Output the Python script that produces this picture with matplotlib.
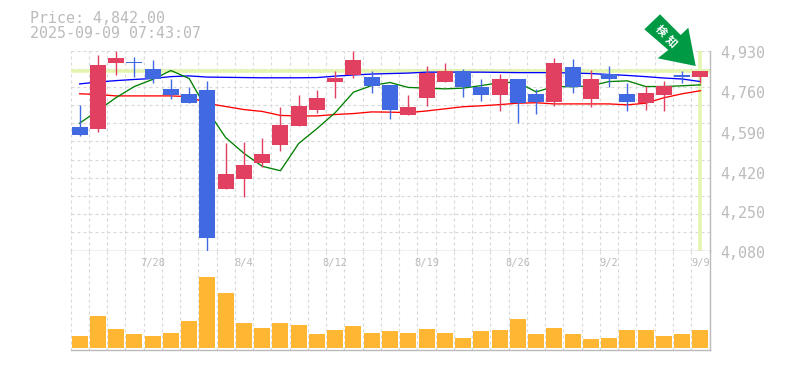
import matplotlib
matplotlib.use("Agg")
import matplotlib.pyplot as plt
from matplotlib.patches import Polygon

W, H = 785, 370

current_price = 4842
price_text = "Price: 4,842.00"
time_text = "2025-09-09 07:43:07"

y_ticks = [4930, 4760, 4590, 4420, 4250, 4080]
date_pos = [4, 9, 14, 19, 24, 29, 34]
date_labels = ["7/28", "8/4", "8/12", "8/19", "8/26", "9/2", "9/9"]

# candles
opens = [4607, 4595, 4875, 4883, 4853, 4768, 4747, 4764, 4343, 4382, 4450, 4530,
         4611, 4679, 4798, 4824, 4819, 4785, 4654, 4730, 4798, 4845, 4777, 4743,
         4807, 4747, 4713, 4858, 4722, 4832, 4747, 4705, 4739, 4828, 4819]
closes = [4573, 4870, 4900, 4879, 4807, 4743, 4705, 4135, 4407, 4445, 4492, 4615,
          4696, 4730, 4815, 4888, 4781, 4679, 4692, 4836, 4845, 4773, 4739, 4807,
          4709, 4713, 4879, 4773, 4811, 4811, 4713, 4751, 4781, 4819, 4845]
highs = [4700, 4913, 4930, 4904, 4888, 4811, 4777, 4802, 4539, 4543, 4560, 4692,
         4739, 4764, 4841, 4930, 4841, 4785, 4743, 4866, 4879, 4853, 4807, 4832,
         4807, 4768, 4900, 4892, 4849, 4866, 4790, 4781, 4802, 4845, 4845]
lows = [4566, 4583, 4824, 4819, 4791, 4722, 4705, 4077, 4343, 4309, 4437, 4501,
        4611, 4666, 4730, 4815, 4751, 4637, 4654, 4696, 4798, 4734, 4717, 4671,
        4624, 4662, 4696, 4751, 4688, 4773, 4671, 4679, 4675, 4790, 4790]

ma_blue = [4788, 4796, 4802, 4807, 4811, 4819, 4822, 4817, 4816, 4815, 4814, 4814,
           4814, 4815, 4821, 4826, 4830, 4832, 4834, 4838, 4838, 4838, 4838, 4837,
           4836, 4836, 4836, 4834, 4832, 4828, 4824, 4819, 4813, 4809, 4798]
ma_green = [4621, 4675, 4730, 4777, 4807, 4845, 4811, 4675, 4560, 4493, 4438, 4419,
            4535, 4598, 4666, 4753, 4781, 4794, 4773, 4770, 4767, 4770, 4781, 4793,
            4795, 4754, 4777, 4776, 4780, 4798, 4801, 4777, 4777, 4780, 4784]
ma_red = [4746, 4743, 4737, 4737, 4737, 4737, 4734, 4705, 4692, 4679, 4671, 4654,
          4652, 4652, 4658, 4662, 4669, 4668, 4666, 4673, 4682, 4691, 4695, 4700,
          4706, 4708, 4703, 4703, 4703, 4703, 4699, 4706, 4729, 4746, 4759]

volume = [12, 32, 19, 14, 12, 15, 27, 71, 55, 25, 20, 25, 23, 14, 18, 22, 15, 17,
          15, 19, 15, 10, 17, 18, 29, 14, 20, 14, 9, 10, 18, 18, 12, 14, 18]

GRAY = "#bbbbbb"
GRID = "#d8d8d8"
UP = "#e24060"
DOWN = "#4169e1"
BAND = "#e4f5b0"
DASH = (0, (2.7, 2.7))

fig = plt.figure(figsize=(W / 100, H / 100), dpi=100, facecolor="white")


def px_axes(x0, y0, x1, y1):
    return fig.add_axes([x0 / W, 1 - y1 / H, (x1 - x0) / W, (y1 - y0) / H])


ax = px_axes(70.5, 50.5, 709.5, 250.5)
vol = px_axes(70.5, 250.5, 709.5, 349.5)

n = len(opens)
xs = list(range(n))

for a in (ax, vol):
    a.set_xlim(-0.5, n - 0.5)
    a.set_xticks([i - 0.5 for i in range(n + 1)])
    a.tick_params(length=0, labelbottom=False, labelleft=False)
    a.grid(True, axis="x", color=GRID, linestyle=DASH, linewidth=0.8)
    a.set_axisbelow(True)
    for s in a.spines.values():
        s.set_visible(False)
    for side in ("right", "bottom"):
        a.spines[side].set_visible(True)
        a.spines[side].set_color(GRAY)
        a.spines[side].set_linewidth(1.0)

# price panel
ax.set_ylim(4080, 4930)
step = (4930 - 4080) / 11
ax.set_yticks([4080 + i * step for i in range(12)])
ax.grid(True, axis="y", color=GRID, linestyle=DASH, linewidth=0.8)

ax.axhline(current_price, color=BAND, linewidth=2.6, zorder=1.5)
ax.axvline(n - 1, color=BAND, linewidth=2.6, zorder=1.5)

ax.plot(xs, ma_blue, color="#0000ff", linewidth=0.95, zorder=2)
ax.plot(xs, ma_red, color="#ff0000", linewidth=0.95, zorder=2)
ax.plot(xs, ma_green, color="#008000", linewidth=0.95, zorder=2)

for i in xs:
    c = UP if closes[i] >= opens[i] else DOWN
    ax.vlines(i, lows[i], highs[i], color=c, linewidth=1.0, zorder=3, clip_on=False)
    ax.bar(i, abs(closes[i] - opens[i]), bottom=min(opens[i], closes[i]),
           width=0.875, color=c, linewidth=0, zorder=4)

# volume panel
vol.set_ylim(-2, 97)
vol.set_yticks([])
vol.bar(xs, volume, width=0.875, color="#ffb733", linewidth=0, zorder=3)
for p, t in zip(date_pos, date_labels):
    vol.text(p, 1 - 12.5 / 99, t, transform=vol.get_xaxis_transform(), ha="center", va="center",
             family="DejaVu Sans Mono", fontsize=7.5, color=GRAY, zorder=5)

# right hand price labels
for v in y_ticks:
    fig.text(720 / W, 1 - (50.5 + (4930 - v) * 200 / 850 + 3.5) / H, f"{v:,}", ha="left", va="center",
             family="DejaVu Sans Mono", fontsize=10.8, color=GRAY)

fig.text(30 / W, 1 - 18.5 / H, price_text, ha="left", va="center",
         family="DejaVu Sans Mono", fontsize=10.8, color=GRAY)
fig.text(30 / W, 1 - 33 / H, time_text, ha="left", va="center",
         family="DejaVu Sans Mono", fontsize=10.8, color=GRAY)

# green arrow badge
arrow_px = [(660, 14.3), (680.7, 35), (688.3, 27.7), (695.7, 66), (657.7, 58.3), (668.3, 50), (644.3, 29.3)]
fig.add_artist(Polygon([(x / W, 1 - y / H) for x, y in arrow_px], closed=True,
                       transform=fig.transFigure, facecolor="#009944", edgecolor="none", zorder=10))
for ch, (cx, cy) in zip("検知", [(661, 31), (671.5, 41.5)]):
    fig.text(cx / W, 1 - cy / H, ch, rotation=-45, rotation_mode="anchor", ha="center", va="center",
             family=["Noto Sans CJK JP", "DejaVu Sans"], fontsize=8, fontweight="bold", color="white", zorder=11)

fig.savefig("out.png", dpi=100, facecolor="white")
